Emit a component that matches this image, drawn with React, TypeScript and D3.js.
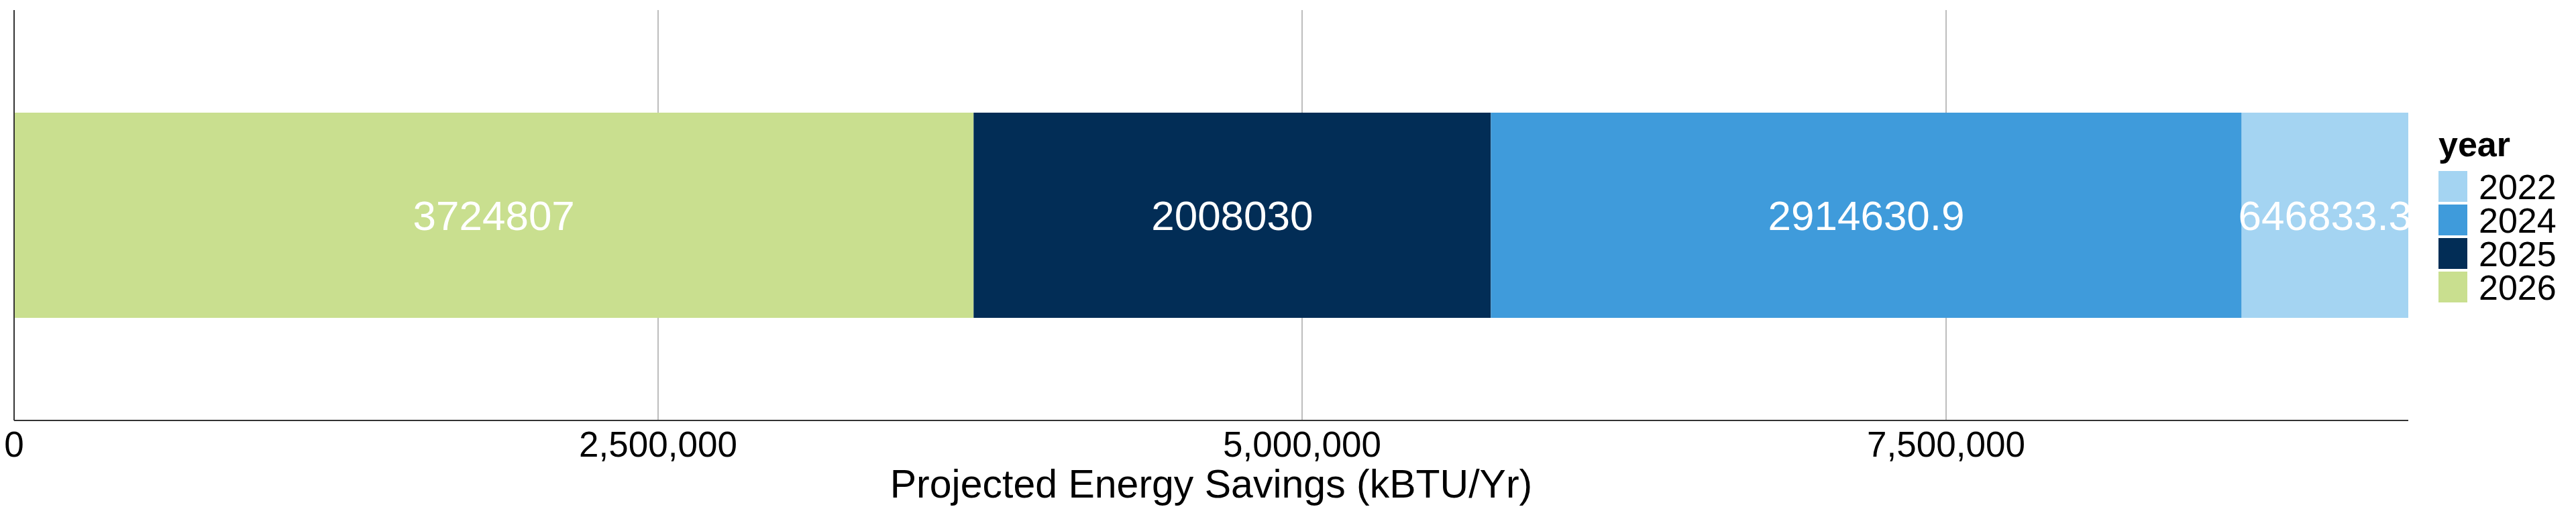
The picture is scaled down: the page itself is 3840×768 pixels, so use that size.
import React from 'react';
import * as d3 from 'd3';

// Stacked horizontal bar: projected energy savings by year
const years = ['2026', '2025', '2024', '2022'];
const savings = [3724807, 2008030, 2914630.9, 646833.3];
const savingLabels = ['3724807', '2008030', '2914630.9', '646833.3'];
const legendYears = ['2022', '2024', '2025', '2026'];
const yearColors: Record<string, string> = {
  '2022': '#a4d4f2',
  '2024': '#3f9bdb',
  '2025': '#022d56',
  '2026': '#c9df8f',
};
const xTicks = [0, 2500000, 5000000, 7500000];

const width = 3840;
const height = 768;
const margin = { top: 15, right: 250, bottom: 141, left: 21 };

const App: React.FC = () => {
  const innerWidth = width - margin.left - margin.right;
  const innerHeight = height - margin.top - margin.bottom;
  const total = d3.sum(savings);

  const xScale = d3.scaleLinear().domain([0, total]).range([0, innerWidth]);
  const yScale = d3.scaleBand().domain(['all']).range([0, innerHeight]).paddingInner(0).paddingOuter(0.5);

  // cumulative starts for each stacked segment
  const starts = savings.map((_, i) => d3.sum(savings.slice(0, i)));
  const fmt = d3.format(',');
  const font = '"Liberation Sans", Arial, sans-serif';

  const barY = yScale('all') as number;
  const barH = yScale.bandwidth();

  return (
    <svg
      width={width}
      height={height}
      style={{ position: 'absolute', left: 0, top: 0, background: '#fff' }}
      fontFamily={font}
    >
      <g transform={`translate(${margin.left},${margin.top})`}>
        {xTicks.slice(1).map(t => (
          <line key={t} x1={xScale(t)} x2={xScale(t)} y1={0} y2={innerHeight} stroke="#bdbdbd" strokeWidth={2} />
        ))}
        {years.map((yr, i) => (
          <rect
            key={yr}
            x={xScale(starts[i])}
            y={barY}
            width={xScale(savings[i]) - xScale(0)}
            height={barH}
            fill={yearColors[yr]}
          />
        ))}
        {years.map((yr, i) => (
          <text
            key={`lab-${yr}`}
            x={xScale(starts[i] + savings[i] / 2)}
            y={barY + barH / 2}
            dy="0.36em"
            textAnchor="middle"
            fill="#fff"
            fontSize={62}
          >
            {savingLabels[i]}
          </text>
        ))}
        <line x1={0} x2={0} y1={0} y2={innerHeight} stroke="#333" strokeWidth={2} />
        <line x1={0} x2={innerWidth} y1={innerHeight} y2={innerHeight} stroke="#333" strokeWidth={2} />
        {xTicks.map(t => (
          <text key={`t-${t}`} x={xScale(t)} y={innerHeight + 54} textAnchor="middle" fontSize={53} fill="#000">
            {fmt(t)}
          </text>
        ))}
        <text x={innerWidth / 2} y={innerHeight + 115} textAnchor="middle" fontSize={59} fill="#000">
          Projected Energy Savings (kBTU/Yr)
        </text>
      </g>
      <g transform="translate(3635,0)">
        <text x={0} y={233} fontSize={52} fontWeight="bold" fill="#000">year</text>
        {legendYears.map((yr, i) => (
          <g key={`lg-${yr}`} transform={`translate(0,${255 + i * 50})`}>
            <rect width={43} height={46} fill={yearColors[yr]} />
            <text x={60} y={23} dy="0.36em" fontSize={52} fill="#000">{yr}</text>
          </g>
        ))}
      </g>
    </svg>
  );
};

export default App;
